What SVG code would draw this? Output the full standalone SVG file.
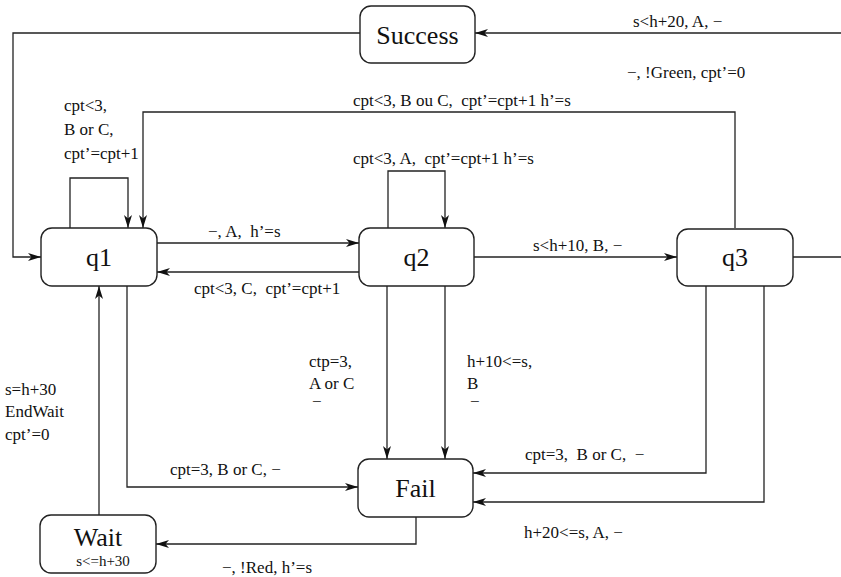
<svg xmlns="http://www.w3.org/2000/svg" width="841" height="577" viewBox="0 0 841 577">
<style>
.node rect{fill:#fff;stroke:#222;stroke-width:1.4}
.nt{font-family:"Liberation Serif","Times New Roman",serif;font-size:26px;fill:#111;text-anchor:middle}
.lb{font-family:"Liberation Serif","Times New Roman",serif;font-size:17px;fill:#111;white-space:pre}
.sm{font-family:"Liberation Serif","Times New Roman",serif;font-size:15px;fill:#111;text-anchor:middle}
.e{fill:none;stroke:#222;stroke-width:1.3}
.a{marker-end:url(#ah)}
</style>
<defs>
<marker id="ah" markerUnits="userSpaceOnUse" markerWidth="14" markerHeight="10" refX="13" refY="4" orient="auto">
<path d="M0,0 L13,4 L0,8 L3.5,4 z" fill="#111"/>
</marker>
</defs>
<rect width="841" height="577" fill="#fff"/>
<g id="connectors">
<path class="e a" d="M360,33 H13 V257 H41"/>
<path class="e a" d="M793,257 H846 V33 H475"/>
<path class="e a" d="M735,228 V112 H143 V228"/>
<path class="e a" d="M70,228 V178 H128 V228"/>
<path class="e a" d="M388,228 V171 H445 V228"/>
<path class="e a" d="M157,243 H359"/>
<path class="e a" d="M359,272 H157"/>
<path class="e a" d="M474,257 H677"/>
<path class="e a" d="M99,515 V286"/>
<path class="e a" d="M127,286 V487 H358"/>
<path class="e a" d="M387,286 V459"/>
<path class="e a" d="M445,286 V459"/>
<path class="e a" d="M706,286 V473 H473"/>
<path class="e a" d="M764,286 V502 H473"/>
<path class="e a" d="M416,517 V544 H156"/>
</g>
<g id="labels">
<text class="lb" x="633" y="27">s&lt;h+20, A, −</text>
<text class="lb" x="627" y="78">−, !Green, cpt’=0</text>
<text class="lb" x="353" y="106">cpt&lt;3, B ou C,  cpt’=cpt+1 h’=s</text>
<text class="lb" x="64" y="111">cpt&lt;3,</text>
<text class="lb" x="64" y="135">B or C,</text>
<text class="lb" x="64" y="159">cpt’=cpt+1</text>
<text class="lb" x="353" y="164">cpt&lt;3, A,  cpt’=cpt+1 h’=s</text>
<text class="lb" x="208" y="237">−, A,  h’=s</text>
<text class="lb" x="194" y="294">cpt&lt;3, C,  cpt’=cpt+1</text>
<text class="lb" x="533" y="251">s&lt;h+10, B, −</text>
<text class="lb" x="309" y="367">ctp=3,</text>
<text class="lb" x="309" y="389">A or C</text>
<text class="lb" x="312" y="407">−</text>
<text class="lb" x="467" y="367">h+10&lt;=s,</text>
<text class="lb" x="467" y="389">B</text>
<text class="lb" x="470" y="407">−</text>
<text class="lb" x="5" y="395">s=h+30</text>
<text class="lb" x="5" y="417">EndWait</text>
<text class="lb" x="5" y="440">cpt’=0</text>
<text class="lb" x="170" y="475">cpt=3, B or C, −</text>
<text class="lb" x="525" y="460">cpt=3,  B or C,  −</text>
<text class="lb" x="524" y="538">h+20&lt;=s, A, −</text>
<text class="lb" x="222" y="573">−, !Red, h’=s</text>
</g>
<g id="Success" class="node"><rect x="360" y="6" width="115" height="57" rx="11"/><text class="nt" x="417.5" y="44">Success</text></g>
<g id="q1" class="node"><rect x="41" y="228" width="116" height="58" rx="11"/><text class="nt" x="99" y="266">q1</text></g>
<g id="q2" class="node"><rect x="359" y="228" width="115" height="58" rx="11"/><text class="nt" x="416.5" y="266">q2</text></g>
<g id="q3" class="node"><rect x="677" y="229" width="116" height="57" rx="11"/><text class="nt" x="735" y="266">q3</text></g>
<g id="Fail" class="node"><rect x="358" y="459" width="115" height="58" rx="11"/><text class="nt" x="415.5" y="497">Fail</text></g>
<g id="Wait" class="node"><rect x="40" y="515" width="116" height="58" rx="11"/><text class="nt" x="98" y="546">Wait</text><text class="sm" x="103" y="566">s&lt;=h+30</text></g>
</svg>
